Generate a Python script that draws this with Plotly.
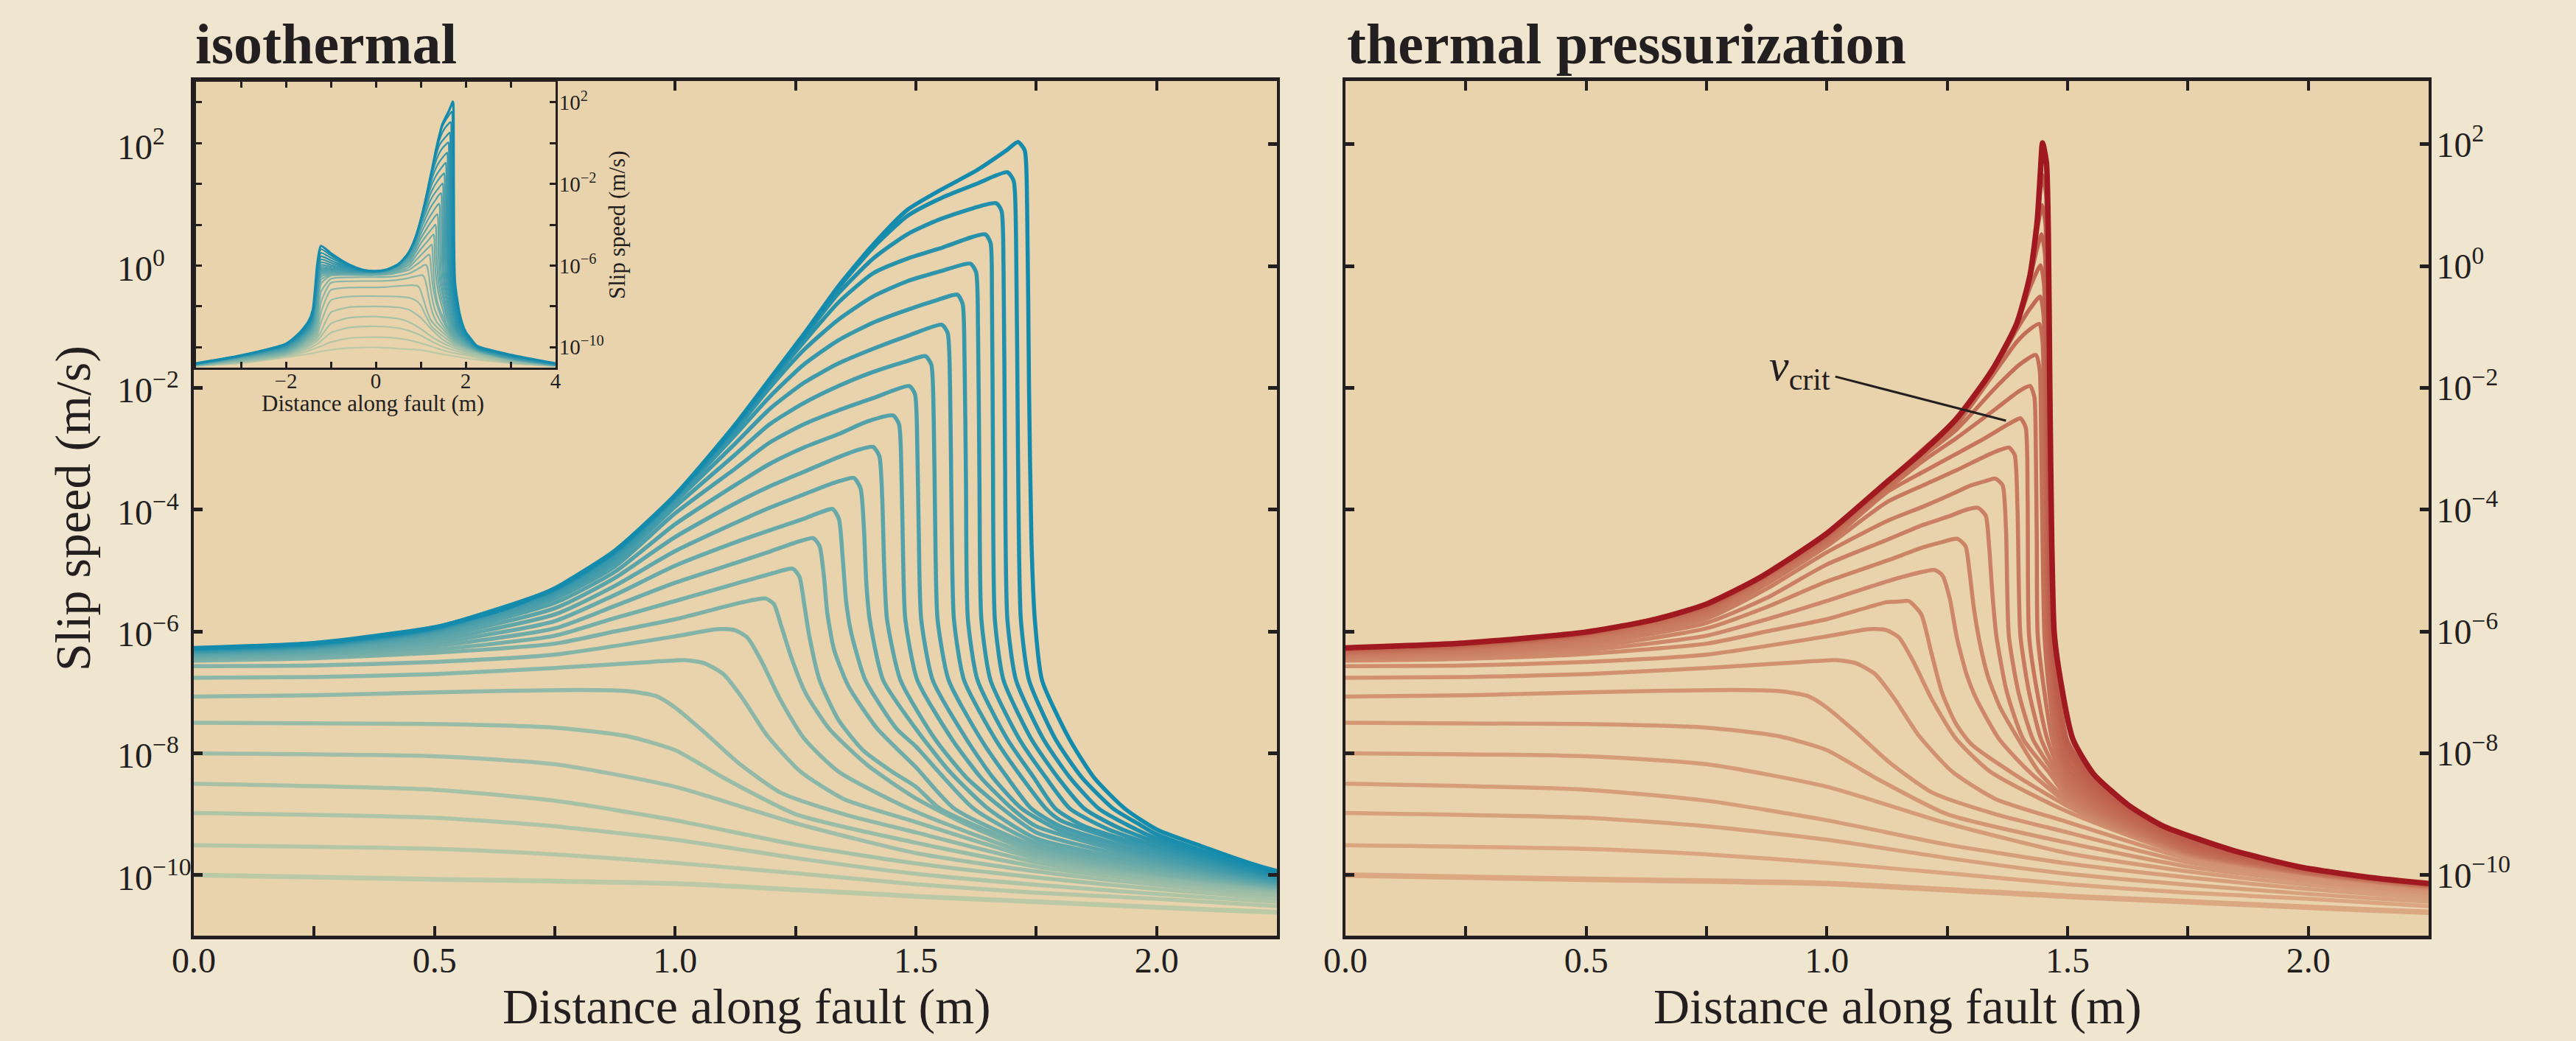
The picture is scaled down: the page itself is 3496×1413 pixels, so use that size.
import plotly.graph_objects as go

# ---------------------------------------------------------------------------
# DATA  (all slip speeds are stored as log10 of slip speed in m/s)
# ---------------------------------------------------------------------------
# x positions (m) of the inset-only part of the isothermal profiles (x < 0)
NEG_X = [-4, -3, -2, -1.7, -1.5, -1.4, -1.3, -1.22, -1.0, -0.6, -0.3]

iso01_neg = [-10.92, -10.78, -10.5, -10.4, -10.33, -10.29, -10.25, -10.21, -10.13, -10.04, -10.01]
iso02_neg = [-10.915, -10.76, -10.45, -10.3, -10.18, -10.1, -10.02, -9.95, -9.75, -9.56, -9.52]
iso03_neg = [-10.91, -10.74, -10.42, -10.22, -10.06, -9.96, -9.84, -9.7, -9.3, -9.04, -8.99]
iso04_neg = [-10.905, -10.72, -10.4, -10.17, -9.96, -9.84, -9.68, -9.48, -8.85, -8.56, -8.51]
iso05_neg = [-10.9, -10.7, -10.38, -10.12, -9.88, -9.74, -9.55, -9.25, -8.3, -8.04, -8.01]
iso06_neg = [-10.895, -10.68, -10.36, -10.08, -9.8, -9.65, -9.4, -8.8, -7.7, -7.52, -7.5]
iso07_neg = [-10.89, -10.66, -10.34, -10.04, -9.73, -9.56, -9.25, -8.3, -7.2, -7.08, -7.07]
iso08_neg = [-10.885, -10.64, -10.31, -10.0, -9.66, -9.48, -9.1, -7.8, -6.85, -6.77, -6.76]
iso09_neg = [-10.88, -10.62, -10.28, -9.96, -9.6, -9.4, -8.95, -7.3, -6.65, -6.58, -6.57]
iso10_neg = [-10.875, -10.6, -10.25, -9.92, -9.55, -9.33, -8.8, -6.9, -6.5, -6.47, -6.48]
iso11_neg = [-10.87, -10.58, -10.22, -9.88, -9.5, -9.27, -8.6, -6.7, -6.46, -6.44, -6.45]
iso12_neg = [-10.865, -10.56, -10.19, -9.84, -9.45, -9.2, -8.4, -6.55, -6.43, -6.42, -6.43]
iso13_neg = [-10.86, -10.54, -10.16, -9.8, -9.4, -9.12, -8.2, -6.45, -6.4, -6.4, -6.41]
iso14_neg = [-10.855, -10.52, -10.13, -9.76, -9.35, -9.04, -8.0, -6.38, -6.36, -6.37, -6.39]
iso15_neg = [-10.85, -10.5, -10.1, -9.72, -9.3, -8.96, -7.8, -6.32, -6.31, -6.35, -6.37]
iso16_neg = [-10.845, -10.49, -10.07, -9.68, -9.25, -8.88, -7.6, -6.25, -6.26, -6.32, -6.35]
iso17_neg = [-10.84, -10.48, -10.04, -9.64, -9.2, -8.8, -7.4, -6.17, -6.2, -6.3, -6.33]
iso18_neg = [-10.835, -10.47, -10.01, -9.6, -9.15, -8.72, -7.2, -6.08, -6.14, -6.27, -6.32]
iso19_neg = [-10.83, -10.46, -9.98, -9.56, -9.1, -8.64, -7.0, -5.98, -6.06, -6.24, -6.31]
iso20_neg = [-10.825, -10.45, -9.95, -9.52, -9.05, -8.56, -6.8, -5.85, -5.97, -6.2, -6.3]
iso21_neg = [-10.82, -10.44, -9.92, -9.48, -9.0, -8.48, -6.6, -5.7, -5.86, -6.15, -6.28]
iso22_neg = [-10.81, -10.43, -9.89, -9.44, -8.95, -8.4, -6.4, -5.55, -5.75, -6.1, -6.26]
iso23_neg = [-10.8, -10.42, -9.87, -9.4, -8.9, -8.32, -6.2, -5.38, -5.62, -6.05, -6.24]
iso24_neg = [-10.795, -10.41, -9.85, -9.35, -8.83, -8.24, -6.05, -5.2, -5.5, -6.0, -6.22]
iso25_neg = [-10.79, -10.4, -9.83, -9.3, -8.75, -8.15, -5.9, -5.04, -5.4, -5.95, -6.2]

# isothermal profiles, x >= 0
iso01_x = [0, 0.5, 1.0, 1.5, 1.75, 2.0, 2.25, 3.0, 4.0]
iso01_v = [-10.0, -10.07, -10.14, -10.35, -10.44, -10.53, -10.61, -10.78, -10.93]
iso02_x = [0, 0.5, 0.75, 1.0, 1.25, 1.5, 1.75, 2.0, 2.25, 3.0, 4.0]
iso02_v = [-9.51, -9.57, -9.66, -9.8, -9.97, -10.15, -10.29, -10.39, -10.51, -10.77, -10.92]
iso03_x = [0, 0.5, 0.75, 1.0, 1.25, 1.5, 1.75, 2.0, 2.25, 3.0, 4.0]
iso03_v = [-8.98, -9.06, -9.2, -9.42, -9.72, -9.98, -10.16, -10.31, -10.44, -10.76, -10.92]
iso04_x = [0, 0.5, 0.75, 1.0, 1.25, 1.5, 1.75, 2.0, 2.25, 3.0, 4.0]
iso04_v = [-8.5, -8.6, -8.78, -9.1, -9.5, -9.81, -10.04, -10.23, -10.38, -10.74, -10.92]
iso05_x = [0, 0.5, 0.75, 1.0, 1.25, 1.5, 1.75, 2.0, 2.25, 3.0, 4.0]
iso05_v = [-8.0, -8.05, -8.18, -8.55, -9.15, -9.64, -9.94, -10.16, -10.33, -10.71, -10.92]
iso06_x = [0, 0.5, 0.75, 0.9, 1.0, 1.1, 1.25, 1.5, 1.75, 2.0, 2.25, 3.0, 4.0]
iso06_v = [-7.5, -7.52, -7.58, -7.72, -7.95, -8.4, -9.0, -9.47, -9.86, -10.1, -10.29, -10.68, -10.91]
iso07_x = [0, 0.25, 0.5, 0.8, 0.9, 0.96, 1.0, 1.06, 1.13, 1.22, 1.35, 1.5, 1.75, 2.0, 2.25, 3.0, 4.0]
iso07_v = [-7.07, -7.05, -7.0, -6.96, -6.98, -7.06, -7.25, -7.65, -8.15, -8.65, -9.0, -9.3, -9.79, -10.06, -10.26, -10.65, -10.91]
iso08_x = [0, 0.25, 0.5, 0.75, 0.95, 1.02, 1.06, 1.1, 1.14, 1.19, 1.26, 1.35, 1.5, 1.75, 2.0, 2.25, 3.0, 4.0]
iso08_v = [-6.76, -6.75, -6.7, -6.6, -6.5, -6.47, -6.52, -6.7, -7.1, -7.7, -8.3, -8.75, -9.13, -9.73, -10.02, -10.24, -10.63, -10.9]
iso09_x = [0, 0.25, 0.5, 0.75, 1.0, 1.08, 1.1, 1.124, 1.15, 1.18, 1.217, 1.267, 1.339, 1.5, 1.75, 2.0, 2.25, 3.0, 4.0]
iso09_v = [-6.57, -6.56, -6.5, -6.38, -6.08, -5.97, -5.96, -5.98, -6.1, -6.5, -7.1, -7.75, -8.3, -8.96, -9.68, -9.99, -10.22, -10.61, -10.9]
iso10_x = [0, 0.25, 0.5, 0.75, 0.875, 1.0, 1.124, 1.165, 1.188, 1.205, 1.22, 1.24, 1.27, 1.32, 1.4, 1.5, 1.6, 1.75, 2.0, 2.25, 3.0, 4.0]
iso10_v = [-6.48, -6.44, -6.35, -6.2, -6.0, -5.8, -5.55, -5.48, -5.46, -5.55, -5.9, -6.4, -7.0, -7.6, -8.2, -8.74, -9.15, -9.63, -9.97, -10.2, -10.6, -10.89]
iso11_x = [0, 0.25, 0.5, 0.75, 0.875, 1.0, 1.124, 1.2, 1.244, 1.258, 1.268, 1.278, 1.3, 1.339, 1.39, 1.45, 1.5, 1.55, 1.75, 2.0, 2.25, 3.0, 4.0]
iso11_v = [-6.45, -6.41, -6.3, -6.07, -5.78, -5.5, -5.22, -5.05, -4.97, -5.1, -5.55, -6.05, -6.8, -7.45, -7.95, -8.3, -8.55, -8.91, -9.58, -9.94, -10.19, -10.59, -10.89]
iso12_x = [0, 0.25, 0.5, 0.75, 0.875, 1.0, 1.124, 1.196, 1.25, 1.287, 1.3, 1.309, 1.316, 1.33, 1.36, 1.42, 1.5, 1.58, 1.75, 2.0, 2.25, 3.0, 4.0]
iso12_v = [-6.43, -6.38, -6.24, -5.95, -5.58, -5.2, -4.88, -4.69, -4.54, -4.47, -4.6, -5.1, -5.7, -6.3, -6.9, -7.6, -8.23, -8.91, -9.53, -9.9, -10.18, -10.58, -10.89]
iso13_x = [0, 0.25, 0.5, 0.75, 0.875, 1.0, 1.124, 1.196, 1.267, 1.3, 1.327, 1.34, 1.348, 1.355, 1.365, 1.395, 1.46, 1.5, 1.62, 1.75, 2.0, 2.25, 3.0, 4.0]
iso13_v = [-6.41, -6.35, -6.19, -5.83, -5.4, -4.92, -4.54, -4.34, -4.15, -4.05, -3.99, -4.15, -4.8, -5.5, -6.0, -6.8, -7.6, -7.89, -8.91, -9.47, -9.87, -10.16, -10.57, -10.88]
iso14_x = [0, 0.25, 0.5, 0.75, 0.875, 1.0, 1.124, 1.196, 1.267, 1.33, 1.371, 1.385, 1.392, 1.397, 1.404, 1.432, 1.5, 1.57, 1.65, 1.75, 2.0, 2.25, 3.0, 4.0]
iso14_v = [-6.39, -6.33, -6.14, -5.72, -5.25, -4.68, -4.22, -3.97, -3.75, -3.56, -3.48, -3.65, -4.3, -5.2, -5.8, -6.8, -7.6, -8.3, -8.91, -9.4, -9.83, -10.15, -10.56, -10.88]
iso15_x = [0, 0.25, 0.5, 0.75, 0.875, 1.0, 1.124, 1.196, 1.267, 1.339, 1.38, 1.411, 1.424, 1.43, 1.434, 1.44, 1.468, 1.54, 1.605, 1.68, 1.75, 2.0, 2.25, 3.0, 4.0]
iso15_v = [-6.37, -6.3, -6.09, -5.62, -5.12, -4.45, -3.9, -3.62, -3.38, -3.14, -3.02, -2.97, -3.12, -3.8, -4.9, -5.8, -6.8, -7.77, -8.4, -8.91, -9.3, -9.79, -10.13, -10.55, -10.87]
iso16_x = [0, 0.25, 0.5, 0.75, 0.875, 1.0, 1.124, 1.196, 1.267, 1.339, 1.4, 1.453, 1.465, 1.47, 1.473, 1.478, 1.503, 1.575, 1.635, 1.7, 1.75, 2.0, 2.25, 3.0, 4.0]
iso16_v = [-6.35, -6.28, -6.05, -5.53, -5.02, -4.24, -3.6, -3.25, -2.98, -2.76, -2.55, -2.455, -2.6, -3.4, -4.6, -5.8, -6.8, -7.77, -8.4, -8.91, -9.2, -9.75, -10.12, -10.54, -10.87]
iso17_x = [0, 0.25, 0.5, 0.75, 0.875, 1.0, 1.124, 1.196, 1.267, 1.339, 1.411, 1.486, 1.498, 1.503, 1.506, 1.511, 1.535, 1.605, 1.66, 1.72, 1.8, 2.0, 2.25, 3.0, 4.0]
iso17_v = [-6.34, -6.26, -6.02, -5.46, -4.93, -4.06, -3.33, -2.9, -2.6, -2.37, -2.17, -1.97, -2.1, -3.0, -4.4, -5.8, -6.8, -7.77, -8.4, -8.91, -9.27, -9.71, -10.1, -10.52, -10.86]
iso18_x = [0, 0.25, 0.5, 0.75, 0.875, 1.0, 1.124, 1.196, 1.267, 1.339, 1.411, 1.482, 1.52, 1.532, 1.537, 1.54, 1.545, 1.568, 1.635, 1.69, 1.74, 1.8, 2.0, 2.25, 3.0, 4.0]
iso18_v = [-6.33, -6.25, -6.0, -5.41, -4.86, -3.95, -3.1, -2.6, -2.25, -1.97, -1.74, -1.56, -1.48, -1.62, -2.5, -4.2, -5.8, -6.8, -7.77, -8.4, -8.91, -9.2, -9.67, -10.09, -10.51, -10.86]
iso19_x = [0, 0.25, 0.5, 0.75, 0.875, 1.0, 1.124, 1.196, 1.267, 1.339, 1.411, 1.482, 1.554, 1.566, 1.571, 1.574, 1.579, 1.6, 1.665, 1.72, 1.77, 1.8, 2.0, 2.25, 3.0, 4.0]
iso19_v = [-6.32, -6.24, -5.98, -5.37, -4.8, -3.87, -2.92, -2.35, -1.92, -1.6, -1.36, -1.15, -0.965, -1.1, -2.0, -4.0, -5.8, -6.8, -7.77, -8.4, -8.91, -9.1, -9.62, -10.07, -10.49, -10.85]
iso20_x = [0, 0.25, 0.5, 0.75, 0.875, 1.0, 1.124, 1.196, 1.267, 1.339, 1.411, 1.482, 1.54, 1.586, 1.597, 1.601, 1.604, 1.608, 1.628, 1.69, 1.745, 1.79, 1.85, 2.0, 2.25, 3.0, 4.0]
iso20_v = [-6.31, -6.23, -5.97, -5.34, -4.76, -3.82, -2.78, -2.15, -1.62, -1.22, -0.93, -0.72, -0.57, -0.47, -0.62, -1.5, -3.5, -5.8, -6.8, -7.77, -8.4, -8.91, -9.2, -9.57, -10.05, -10.47, -10.84]
iso21_x = [0, 0.25, 0.5, 0.75, 0.875, 1.0, 1.124, 1.196, 1.267, 1.339, 1.411, 1.482, 1.554, 1.613, 1.625, 1.629, 1.632, 1.636, 1.655, 1.715, 1.77, 1.82, 1.9, 2.0, 2.25, 3.0, 4.0]
iso21_v = [-6.3, -6.22, -5.96, -5.32, -4.72, -3.79, -2.7, -2.0, -1.38, -0.88, -0.5, -0.25, -0.08, 0.04, -0.1, -1.0, -3.5, -5.8, -6.8, -7.77, -8.4, -8.91, -9.25, -9.52, -10.03, -10.45, -10.83]
iso22_x = [0, 0.25, 0.5, 0.75, 0.875, 1.0, 1.124, 1.196, 1.267, 1.339, 1.411, 1.482, 1.554, 1.644, 1.655, 1.658, 1.66, 1.664, 1.682, 1.74, 1.795, 1.85, 1.92, 2.0, 2.25, 3.0, 4.0]
iso22_v = [-6.29, -6.21, -5.95, -5.31, -4.7, -3.78, -2.66, -1.92, -1.25, -0.6, -0.12, 0.12, 0.3, 0.52, 0.38, -0.5, -3.0, -5.8, -6.8, -7.77, -8.4, -8.91, -9.22, -9.46, -10.01, -10.43, -10.82]
iso23_x = [0, 0.25, 0.5, 0.75, 0.875, 1.0, 1.124, 1.196, 1.267, 1.339, 1.411, 1.482, 1.554, 1.667, 1.678, 1.682, 1.685, 1.69, 1.708, 1.765, 1.82, 1.88, 1.94, 2.0, 2.25, 3.0, 4.0]
iso23_v = [-6.28, -6.2, -5.94, -5.3, -4.69, -3.77, -2.63, -1.88, -1.17, -0.45, 0.12, 0.52, 0.78, 1.03, 0.9, 0.0, -3.0, -5.8, -6.8, -7.77, -8.4, -8.91, -9.18, -9.4, -9.99, -10.41, -10.81]
iso24_x = [0, 0.25, 0.5, 0.75, 0.875, 1.0, 1.124, 1.196, 1.267, 1.339, 1.411, 1.482, 1.554, 1.626, 1.69, 1.703, 1.708, 1.712, 1.718, 1.735, 1.79, 1.845, 1.91, 1.96, 2.0, 2.25, 3.0, 4.0]
iso24_v = [-6.28, -6.2, -5.94, -5.3, -4.68, -3.76, -2.62, -1.87, -1.13, -0.36, 0.3, 0.82, 1.12, 1.35, 1.54, 1.4, 0.5, -3.0, -5.8, -6.8, -7.77, -8.4, -8.91, -9.15, -9.33, -9.96, -10.39, -10.8]
iso25_x = [0, 0.25, 0.5, 0.645, 0.75, 0.875, 1.0, 1.124, 1.196, 1.267, 1.339, 1.411, 1.482, 1.554, 1.626, 1.69, 1.712, 1.726, 1.731, 1.735, 1.74, 1.747, 1.762, 1.819, 1.87, 1.934, 2.0, 2.091, 2.25, 3.0, 4.0]
iso25_v = [-6.27, -6.19, -5.93, -5.63, -5.29, -4.67, -3.76, -2.61, -1.86, -1.12, -0.33, 0.35, 0.92, 1.26, 1.57, 1.91, 2.035, 1.9, 1.0, -2.0, -4.5, -5.8, -6.8, -7.77, -8.4, -8.91, -9.25, -9.52, -9.93, -10.37, -10.79]

# thermal-pressurization profiles (the nine earliest profiles coincide with iso01..iso09)
tp10_x = [0, 0.25, 0.5, 0.75, 0.875, 1.0, 1.124, 1.15, 1.17, 1.196, 1.217, 1.239, 1.267, 1.3, 1.4, 1.5, 1.55, 1.6, 1.75, 2.0, 2.25]
tp10_v = [-6.48, -6.45, -6.37, -6.2, -6.0, -5.8, -5.52, -5.51, -5.5, -5.72, -6.35, -7.0, -7.5, -7.85, -8.4, -8.87, -9.07, -9.24, -9.67, -9.988, -10.215]
tp11_x = [0, 0.25, 0.5, 0.75, 0.875, 1.0, 1.124, 1.2, 1.224, 1.24, 1.255, 1.27, 1.29, 1.31, 1.358, 1.42, 1.5, 1.55, 1.6, 1.75, 2.0, 2.25]
tp11_v = [-6.45, -6.41, -6.31, -6.07, -5.8, -5.5, -5.18, -5.02, -4.99, -5.08, -5.45, -6.1, -6.7, -7.1, -7.77, -8.3, -8.82, -9.04, -9.22, -9.66, -9.986, -10.21]
tp12_x = [0, 0.25, 0.5, 0.75, 0.875, 1.0, 1.124, 1.2, 1.24, 1.271, 1.288, 1.296, 1.305, 1.318, 1.335, 1.36, 1.385, 1.44, 1.5, 1.55, 1.6, 1.75, 2.0, 2.25]
tp12_v = [-6.43, -6.38, -6.26, -5.95, -5.6, -5.18, -4.84, -4.62, -4.53, -4.48, -4.6, -5.0, -5.6, -6.2, -6.75, -7.25, -7.6, -8.3, -8.78, -9.01, -9.2, -9.65, -9.983, -10.205]
tp13_x = [0, 0.25, 0.5, 0.75, 0.875, 1.0, 1.124, 1.2, 1.25, 1.29, 1.314, 1.33, 1.337, 1.344, 1.352, 1.374, 1.408, 1.46, 1.5, 1.55, 1.6, 1.75, 2.0, 2.25]
tp13_v = [-6.41, -6.35, -6.21, -5.86, -5.45, -4.9, -4.5, -4.25, -4.12, -4.0, -3.97, -4.1, -4.6, -5.4, -6.07, -7.0, -7.77, -8.3, -8.73, -8.98, -9.18, -9.64, -9.98, -10.2]
tp14_x = [0, 0.25, 0.5, 0.75, 0.875, 1.0, 1.124, 1.2, 1.25, 1.3, 1.33, 1.35, 1.365, 1.372, 1.378, 1.398, 1.428, 1.47, 1.5, 1.55, 1.6, 1.75, 2.0, 2.25]
tp14_v = [-6.39, -6.33, -6.17, -5.79, -5.3, -4.7, -4.19, -3.95, -3.78, -3.6, -3.53, -3.49, -3.6, -4.3, -6.07, -7.0, -7.77, -8.3, -8.68, -8.94, -9.15, -9.63, -9.975, -10.195]
tp15_x = [0, 0.25, 0.5, 0.75, 0.875, 1.0, 1.124, 1.2, 1.27, 1.33, 1.36, 1.378, 1.39, 1.396, 1.402, 1.42, 1.445, 1.48, 1.5, 1.55, 1.6, 1.75, 2.0, 2.25]
tp15_v = [-6.37, -6.3, -6.12, -5.74, -5.22, -4.6, -3.88, -3.6, -3.35, -3.12, -3.02, -2.98, -3.1, -4.0, -6.07, -7.0, -7.77, -8.35, -8.62, -8.9, -9.12, -9.62, -9.97, -10.19]
tp16_x = [0, 0.25, 0.5, 0.75, 0.875, 1.0, 1.124, 1.2, 1.27, 1.33, 1.37, 1.39, 1.402, 1.413, 1.417, 1.42, 1.437, 1.458, 1.5, 1.55, 1.6, 1.75, 2.0, 2.25]
tp16_v = [-6.35, -6.28, -6.09, -5.7, -5.15, -4.55, -3.72, -3.38, -3.08, -2.82, -2.63, -2.54, -2.5, -2.65, -3.8, -6.07, -7.0, -7.77, -8.56, -8.86, -9.09, -9.61, -9.965, -10.185]
tp17_x = [0, 0.25, 0.5, 0.75, 0.875, 1.0, 1.124, 1.2, 1.27, 1.35, 1.4, 1.422, 1.431, 1.434, 1.436, 1.438, 1.452, 1.468, 1.5, 1.55, 1.6, 1.75, 2.0, 2.25]
tp17_v = [-6.34, -6.26, -6.07, -5.67, -5.12, -4.51, -3.68, -3.2, -2.82, -2.35, -2.05, -1.97, -2.15, -3.0, -4.5, -6.07, -7.0, -7.77, -8.5, -8.82, -9.06, -9.6, -9.96, -10.18]
tp18_x = [0, 0.25, 0.5, 0.75, 0.875, 1.0, 1.124, 1.2, 1.27, 1.35, 1.4, 1.434, 1.442, 1.445, 1.448, 1.452, 1.462, 1.475, 1.5, 1.55, 1.6, 1.75, 2.0, 2.25]
tp18_v = [-6.33, -6.25, -6.06, -5.64, -5.1, -4.48, -3.64, -3.12, -2.68, -2.0, -1.62, -1.46, -1.7, -2.8, -4.5, -6.07, -7.0, -7.77, -8.42, -8.77, -9.02, -9.58, -9.955, -10.175]
tp19_x = [0, 0.25, 0.5, 0.75, 0.875, 1.0, 1.124, 1.2, 1.27, 1.344, 1.394, 1.42, 1.441, 1.448, 1.451, 1.454, 1.457, 1.466, 1.479, 1.5, 1.55, 1.6, 1.75, 2.0, 2.25]
tp19_v = [-6.32, -6.24, -6.05, -5.62, -5.09, -4.46, -3.61, -3.08, -2.6, -1.8, -1.25, -1.05, -0.95, -1.25, -2.4, -4.0, -6.07, -7.0, -7.77, -8.33, -8.72, -8.98, -9.56, -9.95, -10.17]
tp20_x = [0, 0.25, 0.5, 0.75, 0.875, 1.0, 1.124, 1.2, 1.27, 1.344, 1.394, 1.422, 1.443, 1.45, 1.453, 1.456, 1.46, 1.469, 1.483, 1.5, 1.55, 1.6, 1.75, 2.0, 2.25]
tp20_v = [-6.31, -6.23, -6.04, -5.6, -5.08, -4.44, -3.59, -3.05, -2.55, -1.74, -1.05, -0.7, -0.5, -0.8, -2.0, -3.8, -6.07, -7.0, -7.77, -8.23, -8.66, -8.94, -9.54, -9.94, -10.165]
tp21_x = [0, 0.25, 0.5, 0.75, 0.875, 1.0, 1.124, 1.2, 1.27, 1.344, 1.394, 1.422, 1.444, 1.451, 1.454, 1.457, 1.462, 1.472, 1.487, 1.5, 1.55, 1.6, 1.75, 2.0, 2.25]
tp21_v = [-6.3, -6.22, -6.04, -5.59, -5.07, -4.43, -3.58, -3.04, -2.52, -1.71, -0.98, -0.35, 0.01, -0.3, -1.5, -3.6, -6.07, -7.0, -7.77, -8.12, -8.6, -8.9, -9.51, -9.93, -10.16]
tp22_x = [0, 0.25, 0.5, 0.75, 0.875, 1.0, 1.124, 1.2, 1.27, 1.344, 1.394, 1.422, 1.437, 1.446, 1.453, 1.456, 1.459, 1.464, 1.475, 1.492, 1.5, 1.55, 1.6, 1.75, 2.0, 2.25]
tp22_v = [-6.29, -6.21, -6.03, -5.58, -5.06, -4.42, -3.57, -3.03, -2.51, -1.7, -0.96, -0.2, 0.3, 0.52, 0.2, -1.0, -3.4, -6.07, -7.0, -7.77, -8.0, -8.54, -8.85, -9.48, -9.92, -10.155]
tp23_x = [0, 0.25, 0.5, 0.75, 0.875, 1.0, 1.124, 1.2, 1.27, 1.344, 1.394, 1.422, 1.437, 1.447, 1.454, 1.457, 1.46, 1.466, 1.478, 1.5, 1.55, 1.6, 1.75, 2.0, 2.25]
tp23_v = [-6.28, -6.2, -6.03, -5.57, -5.06, -4.41, -3.56, -3.02, -2.5, -1.7, -0.95, -0.16, 0.6, 1.0, 0.7, -0.5, -3.2, -6.07, -7.0, -7.9, -8.47, -8.8, -9.45, -9.91, -10.15]
tp24_x = [0, 0.25, 0.5, 0.75, 0.875, 1.0, 1.124, 1.2, 1.27, 1.344, 1.394, 1.422, 1.437, 1.444, 1.447, 1.455, 1.458, 1.461, 1.468, 1.482, 1.5, 1.55, 1.6, 1.75, 2.0, 2.25]
tp24_v = [-6.28, -6.2, -6.03, -5.56, -5.05, -4.4, -3.555, -3.01, -2.5, -1.7, -0.95, -0.15, 0.72, 1.3, 1.5, 1.2, 0.0, -3.0, -6.07, -7.0, -7.8, -8.4, -8.75, -9.4, -9.9, -10.145]
tp25_x = [0, 0.25, 0.5, 0.645, 0.75, 0.86, 1.0, 1.124, 1.196, 1.27, 1.344, 1.394, 1.422, 1.437, 1.444, 1.448, 1.456, 1.46, 1.463, 1.467, 1.472, 1.482, 1.511, 1.554, 1.626, 1.697, 1.841, 1.984, 2.127, 2.25]
tp25_v = [-6.27, -6.19, -6.01, -5.8, -5.55, -5.12, -4.39, -3.55, -3.07, -2.5, -1.7, -0.95, -0.15, 0.75, 1.6, 2.02, 1.7, 0.5, -2.0, -4.5, -6.0, -6.64, -7.77, -8.34, -8.85, -9.19, -9.59, -9.87, -10.04, -10.14]

# v_crit pointer (x in m, log10 speed)
VCRIT_X = [1.0175, 1.372]
VCRIT_V = [-1.815, -2.54]

# axis ticks
X_MAJOR = [0, 0.5, 1.0, 1.5, 2.0]
X_MAJOR_TEXT = ["0.0", "0.5", "1.0", "1.5", "2.0"]
X_MINOR = [0.25, 0.75, 1.25, 1.75]
Y_EXPONENTS = [2, 0, -2, -4, -6, -8, -10]
INSET_X_MAJOR = [-2, 0, 2, 4]
INSET_X_MAJOR_TEXT = ["\u22122", "0", "2", "4"]
INSET_X_MINOR = [-4, -3, -1, 1, 3]
INSET_Y_LABELLED = [2, -2, -6, -10]
INSET_Y_UNLABELLED = [0, -4, -8]

# ---------------------------------------------------------------------------
# STYLE
# ---------------------------------------------------------------------------
PAPER = "#F0E5CF"
PLOT = "#E8D3AD"
INK = "#231F20"
FONT = "Liberation Serif"

W, H = 3496, 1413


def px_x(p):
    return p / W


def px_y(p):
    return 1 - p / H


def lerp(c0, c1, t):
    return "rgb(%d,%d,%d)" % tuple(round(a + (b - a) * t) for a, b in zip(c0, c1))


def exp_label(e):
    s = str(e).replace("-", "\u2212")
    return "10<sup>%s</sup>" % s


ISO_NEG = [globals()["iso%02d_neg" % k] for k in range(1, 26)]
ISO_X = [globals()["iso%02d_x" % k] for k in range(1, 26)]
ISO_V = [globals()["iso%02d_v" % k] for k in range(1, 26)]
TP_X = ISO_X[:9] + [globals()["tp%02d_x" % k] for k in range(10, 26)]
TP_V = ISO_V[:9] + [globals()["tp%02d_v" % k] for k in range(10, 26)]

iso_cols = [lerp((188, 201, 166), (20, 138, 172), k / 24) for k in range(25)]
tp_cols = [lerp((219, 168, 130), (188, 92, 74), k / 23) for k in range(24)] + ["rgb(160,24,32)"]

fig = go.Figure()

# main isothermal panel
for k in range(25):
    fig.add_trace(go.Scatter(
        x=ISO_X[k], y=[10 ** v for v in ISO_V[k]], mode="lines",
        line=dict(color=iso_cols[k], width=6.5 if k == 0 else 5.5, shape="spline", smoothing=0.6),
        xaxis="x", yaxis="y", hoverinfo="skip", showlegend=False))

# thermal pressurization panel
for k in range(25):
    w = 7.5 if k in (0, 24) else 5.5
    fig.add_trace(go.Scatter(
        x=TP_X[k], y=[10 ** v for v in TP_V[k]], mode="lines",
        line=dict(color=tp_cols[k], width=w, shape="spline", smoothing=0.6),
        xaxis="x2", yaxis="y2", hoverinfo="skip", showlegend=False))

fig.add_trace(go.Scatter(
    x=VCRIT_X, y=[10 ** v for v in VCRIT_V], mode="lines",
    line=dict(color=INK, width=3), xaxis="x2", yaxis="y2",
    hoverinfo="skip", showlegend=False))

# inset (full isothermal profiles)
for k in range(25):
    fig.add_trace(go.Scatter(
        x=NEG_X + ISO_X[k], y=[10 ** v for v in ISO_NEG[k] + ISO_V[k]], mode="lines",
        line=dict(color=iso_cols[k], width=3.2 if k == 24 else 2.2, shape="spline", smoothing=0.6),
        xaxis="x3", yaxis="y3", hoverinfo="skip", showlegend=False))

MAIN_Y_DOM = [px_y(1270), px_y(110)]
MAIN_Y_RANGE = [-10.995, 3.037]

common_x = dict(
    range=[0, 2.25], tickmode="array", tickvals=X_MAJOR, ticktext=X_MAJOR_TEXT,
    ticks="inside", ticklen=13, tickwidth=4, tickcolor=INK,
    minor=dict(tickmode="array", tickvals=X_MINOR, ticks="inside", ticklen=13, tickwidth=4, tickcolor=INK,
               showgrid=False),
    showline=True, linecolor=INK, linewidth=5, mirror="ticks",
    showgrid=False, zeroline=False, automargin=False,
    tickfont=dict(family=FONT, size=48, color=INK), ticklabelstandoff=-13)
common_y = dict(
    type="log", range=MAIN_Y_RANGE, domain=MAIN_Y_DOM, tickmode="array",
    tickvals=[10.0 ** e for e in Y_EXPONENTS],
    ticktext=[exp_label(e) for e in Y_EXPONENTS],
    ticks="inside", ticklen=12, tickwidth=5, tickcolor=INK,
    showline=True, linecolor=INK, linewidth=4, mirror="ticks",
    showgrid=False, zeroline=False, automargin=False,
    tickfont=dict(family=FONT, size=48, color=INK))

fig.update_layout(
    width=W, height=H, template="none",
    paper_bgcolor=PAPER, plot_bgcolor=PLOT,
    margin=dict(l=0, r=0, t=0, b=0, autoexpand=False),
    showlegend=False, font=dict(family=FONT, color=INK),
    xaxis=dict(domain=[px_x(263), px_x(1733)], anchor="y", **common_x),
    yaxis=dict(anchor="x", showticklabels=False, **common_y),
    xaxis2=dict(domain=[px_x(1826), px_x(3296)], anchor="y2", **common_x),
    yaxis2=dict(anchor="x2", side="right", showticklabels=True, ticklabelstandoff=-3, **common_y),
    xaxis3=dict(domain=[px_x(266), px_x(754)], anchor="y3", range=[-4, 4],
                tickmode="array", tickvals=INSET_X_MAJOR, ticktext=INSET_X_MAJOR_TEXT,
                ticks="inside", ticklen=8, tickwidth=2.5, tickcolor=INK,
                minor=dict(tickmode="array", tickvals=INSET_X_MINOR, ticks="inside", ticklen=8,
                           tickwidth=2.5, tickcolor=INK, showgrid=False),
                showline=True, linecolor=INK, linewidth=3, mirror="ticks",
                showgrid=False, zeroline=False, automargin=False,
                tickfont=dict(family=FONT, size=29, color=INK), ticklabelstandoff=-10),
    yaxis3=dict(domain=[px_y(499), px_y(111)], anchor="x3", type="log", range=[-11, 3],
                side="right", tickmode="array",
                tickvals=[10.0 ** e for e in INSET_Y_LABELLED],
                ticktext=[exp_label(e) for e in INSET_Y_LABELLED],
                ticks="inside", ticklen=8, tickwidth=2.5, tickcolor=INK,
                minor=dict(tickmode="array", tickvals=[10.0 ** e for e in INSET_Y_UNLABELLED],
                           ticks="inside", ticklen=8, tickwidth=2.5, tickcolor=INK, showgrid=False),
                showline=True, linecolor=INK, linewidth=3, mirror="ticks",
                showgrid=False, zeroline=False, automargin=False,
                tickfont=dict(family=FONT, size=29, color=INK), ticklabelstandoff=-4),
)

# inset: light background outside the main-panel window (0 .. 2.25 m)
for x0, x1 in [(-4, 0), (2.25, 4)]:
    fig.add_shape(type="rect", xref="x3", yref="y3 domain", x0=x0, x1=x1, y0=0, y1=1,
                  fillcolor=PAPER, line=dict(width=0), layer="below")

ann = []


def add_text(text, x, y, size, xref="paper", yref="paper", xanchor="center", yanchor="middle", angle=0):
    ann.append(dict(text=text, x=x, y=y, xref=xref, yref=yref, xanchor=xanchor, yanchor=yanchor,
                    textangle=angle, showarrow=False, font=dict(family=FONT, size=size, color=INK)))


add_text("<b>isothermal</b>", px_x(263), px_y(60), 78, xanchor="left")
add_text("<b>thermal pressurization</b>", px_x(1826), px_y(60), 78, xanchor="left")
add_text("Distance along fault (m)", px_x(1013), px_y(1366), 68)
add_text("Distance along fault (m)", px_x(2575), px_y(1366), 68)
add_text("Slip speed (m/s)", px_x(99), px_y(690), 68, angle=-90)
add_text("Distance along fault (m)", px_x(506), px_y(547), 31)
add_text("Slip speed (m/s)", px_x(837), px_y(305), 31, angle=-90)
for e in Y_EXPONENTS:
    add_text(exp_label(e), px_x(157), e, 48, yref="y", xanchor="left")
add_text("<i>v</i><sub>crit</sub>", 1.0107, -1.681, 60, xref="x2", yref="y2", xanchor="right")

fig.update_layout(annotations=ann)

fig.write_html("out.html", config={"displayModeBar": False},
               post_script="document.body.style.margin='0px';document.body.style.overflow='hidden';")
